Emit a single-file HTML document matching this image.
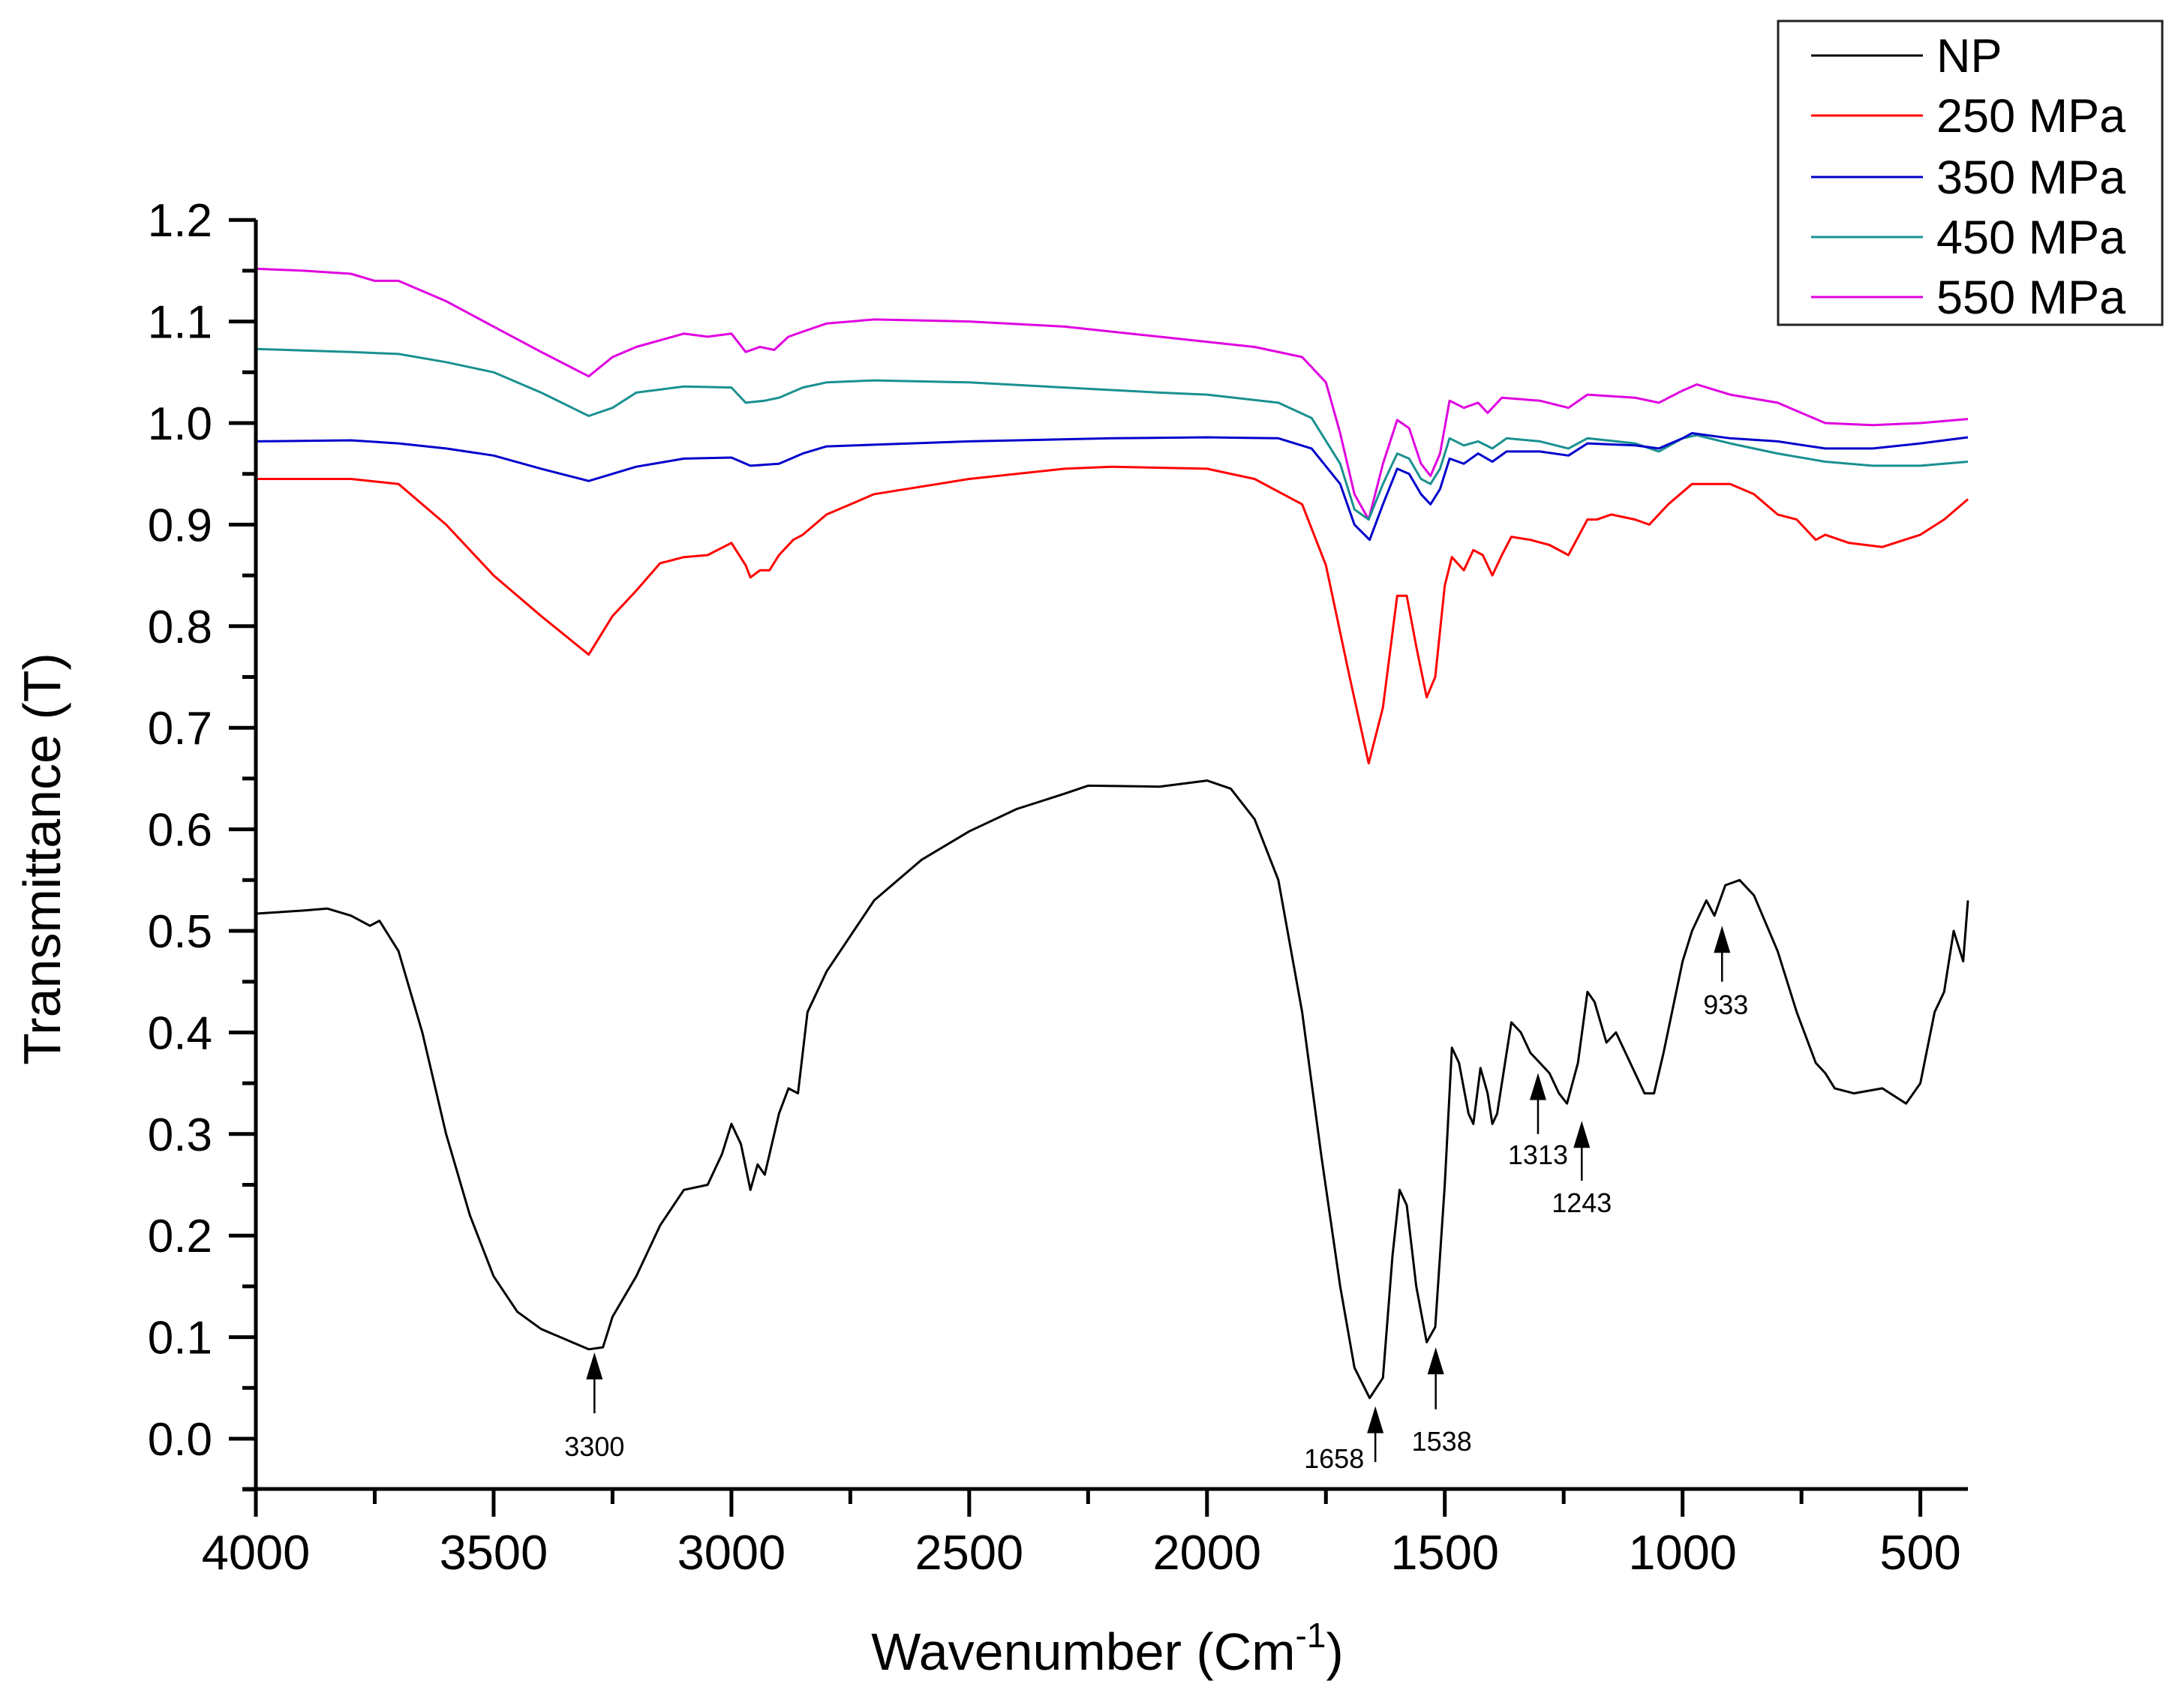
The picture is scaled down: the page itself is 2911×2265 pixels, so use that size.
<!DOCTYPE html>
<html><head><meta charset="utf-8"><style>
html,body{margin:0;padding:0;background:#fff;}
svg{display:block;font-family:"Liberation Sans",Arial,sans-serif;}
</style></head><body>
<svg id="chart" width="2911" height="2265" viewBox="0 0 2911 2265" xmlns="http://www.w3.org/2000/svg">
<rect width="2911" height="2265" fill="#fff"/>
<g id="series"></g>
<g id="axes"></g>
<g id="annots"></g>
<text x="0" y="0" transform="translate(80,1145) rotate(-90)" text-anchor="middle" font-size="70">Transmittance (T)</text>
<text x="1476" y="2226" text-anchor="middle" font-size="70">Wavenumber (Cm<tspan font-size="46" dy="-30">-1</tspan><tspan dy="30">)</tspan></text>
<g>
<rect x="2370" y="28" width="512" height="405" fill="#fff" stroke="#222" stroke-width="3"/>
<line x1="2414" y1="74" x2="2563" y2="74" stroke="#000" stroke-width="3"/><text x="2581" y="96" font-size="63">NP</text>
<line x1="2414" y1="154" x2="2563" y2="154" stroke="#f00" stroke-width="3"/><text x="2581" y="176" font-size="63">250 MPa</text>
<line x1="2414" y1="236" x2="2563" y2="236" stroke="#00c" stroke-width="3"/><text x="2581" y="258" font-size="63">350 MPa</text>
<line x1="2414" y1="316" x2="2563" y2="316" stroke="#1a9090" stroke-width="3"/><text x="2581" y="338" font-size="63">450 MPa</text>
<line x1="2414" y1="396" x2="2563" y2="396" stroke="#e000e0" stroke-width="3"/><text x="2581" y="418" font-size="63">550 MPa</text>
</g>
</svg>
<script>
const npWn=[4000,3900,3850,3800,3760,3740,3700,3650,3600,3550,3500,3450,3400,3350,3300,3270,3250,3200,3150,3100,3050,3020,3000,2980,2960,2945,2930,2900,2880,2860,2840,2800,2700,2600,2500,2400,2300,2250,2100,2000,1950,1900,1850,1800,1760,1720,1690,1658,1630,1610,1595,1580,1560,1538,1520,1500,1485,1470,1450,1440,1425,1410,1400,1390,1370,1360,1340,1320,1300,1280,1260,1243,1220,1200,1185,1160,1140,1120,1080,1060,1040,1000,980,960,950,933,910,880,850,800,760,720,700,680,640,580,530,500,470,450,430,410,400];
const npT=[0.517,0.52,0.522,0.515,0.505,0.51,0.48,0.40,0.30,0.22,0.16,0.125,0.108,0.098,0.088,0.09,0.12,0.16,0.21,0.245,0.25,0.28,0.31,0.29,0.245,0.27,0.26,0.32,0.345,0.34,0.42,0.46,0.53,0.57,0.598,0.62,0.635,0.643,0.642,0.648,0.64,0.61,0.55,0.42,0.28,0.15,0.07,0.04,0.06,0.18,0.245,0.23,0.15,0.095,0.11,0.25,0.385,0.37,0.32,0.31,0.365,0.34,0.31,0.32,0.38,0.41,0.40,0.38,0.37,0.36,0.34,0.33,0.37,0.44,0.43,0.39,0.40,0.38,0.34,0.34,0.38,0.47,0.50,0.52,0.53,0.515,0.545,0.55,0.535,0.48,0.42,0.37,0.36,0.345,0.34,0.345,0.33,0.35,0.42,0.44,0.5,0.47,0.53];
const p250Wn=[4000,3800,3700,3600,3500,3400,3300,3250,3200,3150,3100,3050,3000,2970,2960,2940,2920,2900,2870,2850,2800,2700,2500,2300,2200,2000,1900,1800,1750,1700,1660,1630,1600,1580,1560,1538,1520,1500,1485,1460,1440,1420,1400,1380,1360,1320,1280,1240,1200,1180,1150,1100,1070,1030,980,950,900,850,800,760,720,700,650,580,500,450,400];
const p250T=[0.945,0.945,0.94,0.90,0.85,0.81,0.772,0.81,0.835,0.862,0.868,0.87,0.882,0.86,0.848,0.855,0.855,0.87,0.885,0.89,0.91,0.93,0.945,0.955,0.957,0.955,0.945,0.92,0.86,0.75,0.665,0.72,0.83,0.83,0.78,0.73,0.75,0.84,0.868,0.855,0.875,0.87,0.85,0.87,0.888,0.885,0.88,0.87,0.905,0.905,0.91,0.905,0.90,0.92,0.94,0.94,0.94,0.93,0.91,0.905,0.885,0.89,0.882,0.878,0.89,0.905,0.925];
const p350Wn=[4000,3800,3700,3600,3500,3400,3300,3250,3200,3100,3000,2960,2900,2850,2800,2500,2200,2000,1850,1780,1720,1690,1658,1630,1600,1575,1550,1530,1510,1490,1460,1430,1400,1370,1300,1240,1200,1100,1050,1000,980,900,800,700,600,500,400];
const p350T=[0.982,0.983,0.98,0.975,0.968,0.955,0.943,0.95,0.957,0.965,0.966,0.958,0.96,0.97,0.977,0.982,0.985,0.986,0.985,0.975,0.94,0.9,0.885,0.92,0.955,0.95,0.93,0.92,0.935,0.965,0.96,0.97,0.962,0.972,0.972,0.968,0.98,0.978,0.975,0.985,0.99,0.985,0.982,0.975,0.975,0.98,0.986];
const p450Wn=[4000,3800,3700,3600,3500,3400,3300,3250,3200,3100,3000,2970,2930,2900,2850,2800,2700,2500,2300,2100,2000,1850,1780,1720,1690,1660,1630,1600,1575,1550,1530,1510,1490,1460,1430,1400,1370,1300,1240,1200,1100,1050,1000,970,900,800,700,600,500,400];
const p450T=[1.073,1.07,1.068,1.06,1.05,1.03,1.007,1.015,1.03,1.036,1.035,1.02,1.022,1.025,1.035,1.04,1.042,1.04,1.035,1.03,1.028,1.02,1.005,0.96,0.915,0.905,0.94,0.97,0.965,0.945,0.94,0.955,0.985,0.978,0.982,0.975,0.985,0.982,0.975,0.985,0.98,0.972,0.985,0.988,0.98,0.97,0.962,0.958,0.958,0.962];
const p550Wn=[4000,3900,3800,3750,3700,3600,3500,3400,3300,3250,3200,3100,3050,3000,2970,2940,2910,2880,2850,2800,2700,2500,2300,2100,1900,1800,1750,1720,1690,1660,1630,1600,1575,1550,1530,1510,1490,1460,1430,1410,1380,1300,1240,1200,1100,1050,1000,970,900,800,700,600,500,400];
const p550T=[1.152,1.15,1.147,1.14,1.14,1.12,1.095,1.07,1.046,1.065,1.075,1.088,1.085,1.088,1.07,1.075,1.072,1.085,1.09,1.098,1.102,1.1,1.095,1.085,1.075,1.065,1.04,0.99,0.93,0.905,0.96,1.003,0.995,0.96,0.948,0.97,1.022,1.015,1.02,1.01,1.025,1.022,1.015,1.028,1.025,1.02,1.032,1.038,1.028,1.02,1.0,0.998,1.0,1.004];
const xTicks=[4000,3500,3000,2500,2000,1500,1000,500];
const yTicks=[0.0,0.1,0.2,0.3,0.4,0.5,0.6,0.7,0.8,0.9,1.0,1.1,1.2];
const annWn=[3288,1646,1519,1304,1212,917];
const annLabel=["3300","1658","1538","1313","1243","933"];
const annTip=[0.085,0.032,0.09,0.36,0.313,0.505];
const annTail=[0.025,-0.023,0.029,0.30,0.254,0.45];
const annLabelY=[-0.008,-0.02,-0.003,0.279,0.232,0.427];
const annLabelDx=[0,-55,8,0,0,5];

const NS="http://www.w3.org/2000/svg";
const X0=341,X1=2623,W0=4000,W1=400,Y0=1918,PPU=1354,AXY=1985,TOPY=293;
const xs=w=>X0+(W0-w)/(W0-W1)*(X1-X0);
const ys=v=>Y0-v*PPU;
function mk(tag,attrs,parent){const e=document.createElementNS(NS,tag);for(const k in attrs)e.setAttribute(k,attrs[k]);parent.appendChild(e);return e;}
const series=document.getElementById('series');
function drawSeries(wn,t,color,name){
  const d=wn.map((w,i)=>(i?'L':'M')+xs(w).toFixed(1)+','+ys(t[i]).toFixed(1)).join('');
  const p=mk('path',{d:d,fill:'none',stroke:color,'stroke-width':3,'stroke-linejoin':'round'},series);
  
  
}
drawSeries(p550Wn,p550T,'#e000e0','series-550mpa');
drawSeries(p450Wn,p450T,'#1a9090','series-450mpa');
drawSeries(p350Wn,p350T,'#0000cc','series-350mpa');
drawSeries(p250Wn,p250T,'#ff0000','series-250mpa');
drawSeries(npWn,npT,'#000','series-np');

const axes=document.getElementById('axes');
const ya=mk('line',{x1:X0,y1:TOPY,x2:X0,y2:AXY,stroke:'#000','stroke-width':5},axes);


const xa=mk('line',{x1:X0-18,y1:AXY,x2:X1,y2:AXY,stroke:'#000','stroke-width':5},axes);


yTicks.forEach(v=>{
  mk('line',{x1:X0-36,y1:ys(v),x2:X0,y2:ys(v),stroke:'#000','stroke-width':5},axes);
  const mv=v+0.05; if(mv<1.21) mk('line',{x1:X0-18,y1:ys(mv),x2:X0,y2:ys(mv),stroke:'#000','stroke-width':5},axes);
  const t=mk('text',{x:283,y:ys(v)+22,'text-anchor':'end','font-size':62},axes);
  t.textContent=v.toFixed(1);
  
  
});
mk('line',{x1:X0-18,y1:ys(-0.05),x2:X0,y2:ys(-0.05),stroke:'#000','stroke-width':5},axes);
xTicks.forEach(w=>{
  mk('line',{x1:xs(w),y1:AXY,x2:xs(w),y2:AXY+37,stroke:'#000','stroke-width':5},axes);
  if(w-250>=W1) mk('line',{x1:xs(w-250),y1:AXY,x2:xs(w-250),y2:AXY+20,stroke:'#000','stroke-width':5},axes);
  const t=mk('text',{x:xs(w),y:2092,'text-anchor':'middle','font-size':65},axes);
  t.textContent=String(w);
  
  
});
const ann=document.getElementById('annots');
annWn.forEach((w,i)=>{
  const x=xs(w),yt=ys(annTip[i]),yb=ys(annTail[i]);
  const g=mk('g',{},ann);
  
  
  mk('line',{x1:x,y1:yt+30,x2:x,y2:yb,stroke:'#000','stroke-width':2.5},g);
  mk('path',{d:`M${x},${yt}L${x-11},${yt+36}L${x+11},${yt+36}Z`,fill:'#000'},g);
  const t=mk('text',{x:x+annLabelDx[i],y:ys(annLabelY[i])+12,'text-anchor':'middle','font-size':36},g);
  t.textContent=annLabel[i];
});
</script>
</body></html>
